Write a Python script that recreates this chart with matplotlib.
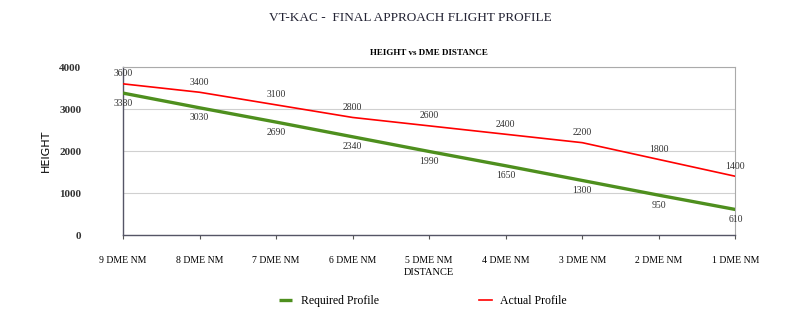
import matplotlib.pyplot as plt
import matplotlib

plt.rcParams['font.family'] = ['Liberation Serif', 'DejaVu Serif']
plt.rcParams['font.size'] = 7

distance = ['9 DME NM', '8 DME NM', '7 DME NM', '6 DME NM', '5 DME NM',
            '4 DME NM', '3 DME NM', '2 DME NM', '1 DME NM']
required = [3380, 3030, 2690, 2340, 1990, 1650, 1300, 950, 610]
actual = [3600, 3400, 3100, 2800, 2600, 2400, 2200, 1800, 1400]
yticks = [0, 1000, 2000, 3000, 4000]

fig = plt.figure(figsize=(8.09, 3.27), dpi=100)
ax = fig.add_axes([0.152, 0.281, 0.757, 0.514])

x = list(range(len(distance)))
ax.plot(x, required, color='#4E8F1E', lw=2.4, solid_joinstyle='round',
        solid_capstyle='butt', label='Required Profile', zorder=3)
ax.plot(x, actual, color='#FF0000', lw=1.2, solid_joinstyle='round',
        label='Actual Profile', zorder=3)

# value labels: actual above the line, required below
for i, v in enumerate(actual):
    ax.annotate(str(v), (x[i], v), xytext=(0, 4), textcoords='offset points',
                ha='center', va='bottom', fontsize=7, color='#333333')
for i, v in enumerate(required):
    ax.annotate(str(v), (x[i], v), xytext=(0, -4), textcoords='offset points',
                ha='center', va='top', fontsize=7, color='#333333')

ax.set_xlim(0, len(distance) - 1)
ax.set_ylim(0, 4000)
ax.set_xticks(x)
ax.set_xticklabels(distance, fontsize=7)
ax.set_yticks(yticks)
ax.set_yticklabels([str(t) for t in yticks], fontsize=8, fontweight='bold', color='#333333')
ax.tick_params(axis='x', length=3, width=0.8, color='#555555', pad=12)
ax.tick_params(axis='y', length=0, pad=30)
ax.grid(axis='y', color='#d0d0d0', lw=0.8, zorder=0)
for side in ['top', 'right']:
    ax.spines[side].set_color('#aaaaaa')
for side in ['left', 'bottom']:
    ax.spines[side].set_color('#555566')
    ax.spines[side].set_linewidth(1.0)

ax.set_ylabel('HEIGHT', fontsize=8, fontfamily='DejaVu Sans Condensed', labelpad=6)
ax.set_xlabel('DISTANCE', fontsize=7.5, labelpad=2)
ax.set_title('HEIGHT vs DME DISTANCE', fontsize=6.5, fontweight='bold', pad=9)

fig.text(0.507, 0.945, 'VT-KAC -  FINAL APPROACH FLIGHT PROFILE', ha='center', va='center',
         fontsize=9.5, color='#222233')

ax.legend(loc='center', bbox_to_anchor=(0.49, -0.39), ncol=2, frameon=False,
          fontsize=8.5, handlelength=1.1, columnspacing=8.5, handletextpad=0.7)

plt.savefig('out.png', dpi=100)
